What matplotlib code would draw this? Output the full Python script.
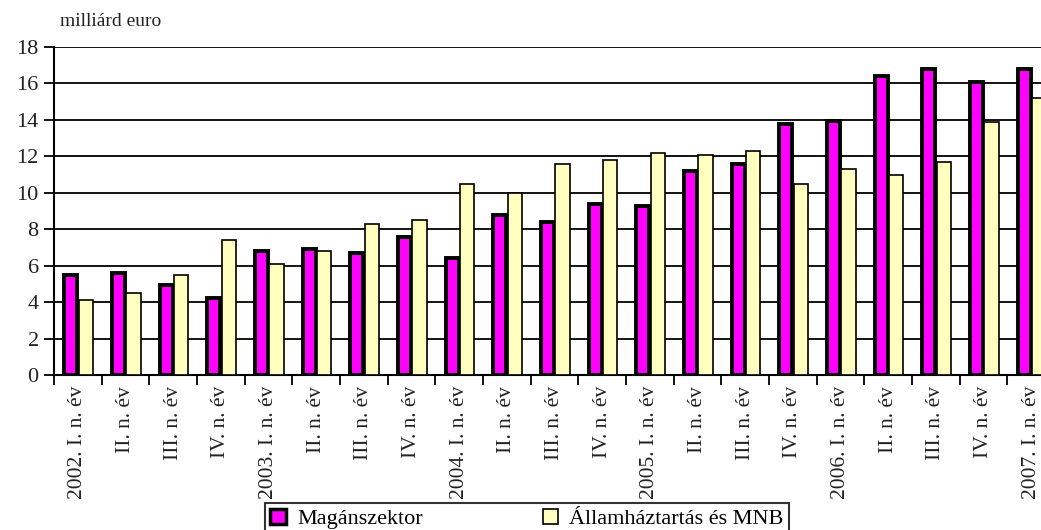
import matplotlib
matplotlib.use("Agg")
import matplotlib.pyplot as plt
import numpy as np
from matplotlib.patches import Patch

categories = ["2002. I. n. év", "II. n. év", "III. n. év", "IV. n. év",
              "2003. I. n. év", "II. n. év", "III. n. év", "IV. n. év",
              "2004. I. n. év", "II. n. év", "III. n. év", "IV. n. év",
              "2005. I. n. év", "II. n. év", "III. n. év", "IV. n. év",
              "2006. I. n. év", "II. n. év", "III. n. év", "IV. n. év",
              "2007. I. n. év"]
maganszektor = [5.5, 5.6, 4.95, 4.2, 6.8, 6.9, 6.7, 7.6, 6.4, 8.8, 8.4, 9.4,
                9.3, 11.2, 11.6, 13.75, 13.95, 16.4, 16.8, 16.1, 16.8]
allamhaztartas = [4.1, 4.5, 5.5, 7.4, 6.1, 6.8, 8.3, 8.5, 10.5, 10.0, 11.6, 11.8,
                  12.2, 12.1, 12.3, 10.5, 11.3, 11.0, 11.7, 13.9, 15.2]
series_names = ["Magánszektor", "Államháztartás és MNB"]
yticks = [0, 2, 4, 6, 8, 10, 12, 14, 16, 18]

plt.rcParams['font.family'] = ['Liberation Serif', 'DejaVu Serif']

W, H = 1041, 530
fig = plt.figure(figsize=(W / 100, H / 100), dpi=100)
left = 54 / W
right = 1055 / W
bottom = 1 - 375 / H
top = 1 - 47 / H
ax = fig.add_axes([left, bottom, right - left, top - bottom])

x = np.arange(len(categories))
magenta = "#FF00FF"
yellow = "#FFFFC0"
ax.bar(x - 0.145, maganszektor, width=0.27, color=magenta, edgecolor="black",
       linewidth=2.8, zorder=3)
ax.bar(x + 0.165, allamhaztartas, width=0.30, color=yellow, edgecolor="black",
       linewidth=1.2, zorder=3)

ax.set_xlim(-0.5, len(categories) - 0.5)
ax.set_ylim(0, 18)
ax.set_yticks(yticks)
ax.set_yticklabels([str(v) for v in yticks], fontsize=16, color="#222222")
ax.yaxis.grid(True, color="black", linewidth=1.3, zorder=0)
ax.set_axisbelow(True)

ax.set_xticks(np.arange(len(categories) + 1) - 0.5)
ax.set_xticklabels([])
ax.set_xticks(x, minor=True)
ax.set_xticklabels(categories, minor=True, rotation=90, fontsize=15.5, color="#222222")
ax.tick_params(axis="x", which="minor", length=0, pad=8)
ax.tick_params(axis="x", which="major", length=7, width=1.3, direction="out")
ax.tick_params(axis="y", length=7, width=1.3, direction="out", pad=4)

for s in ["top", "right"]:
    ax.spines[s].set_visible(False)
ax.spines["left"].set_linewidth(1.5)
ax.spines["bottom"].set_linewidth(1.5)

fig.text(60 / W, 1 - 22 / H, "milliárd euro", fontsize=14, va="center",
         ha="left", color="#222222")

handles = [Patch(facecolor=magenta, edgecolor="black", linewidth=2.5),
           Patch(facecolor=yellow, edgecolor="black", linewidth=1.2)]
leg = fig.legend(handles, series_names, loc="upper center",
                 bbox_to_anchor=(527 / W, 1 - 503 / H), ncol=2, fontsize=16,
                 frameon=True, fancybox=False, edgecolor="black",
                 handlelength=0.7, handleheight=0.7, columnspacing=5.4,
                 handletextpad=0.5, borderpad=0.25, borderaxespad=0)
leg.get_frame().set_linewidth(1.5)

fig.savefig("out.png", dpi=100)
